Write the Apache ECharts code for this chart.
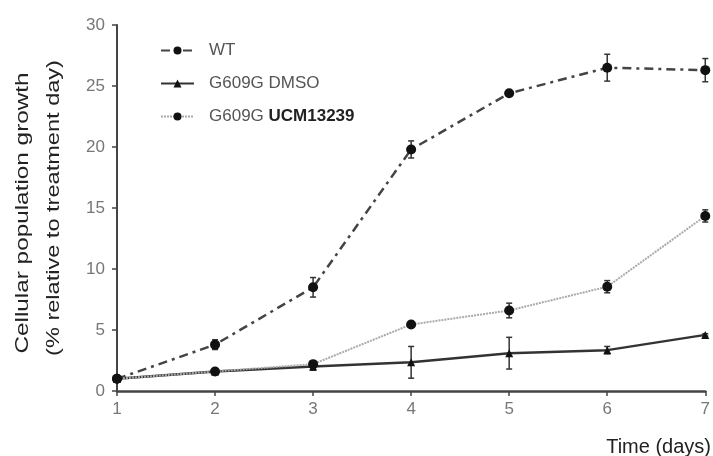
<!DOCTYPE html>
<html>
<head>
<meta charset="utf-8">
<script src="https://cdn.jsdelivr.net/npm/echarts@6/dist/echarts.min.js"></script>
<style>
	html, body { margin: 0; padding: 0; background: #fff; }
	#chart { width: 713px; height: 456px; }
</style>
</head>
<body>
<div id="chart"></div>
<script>
	// 数据
	var days = [1, 2, 3, 4, 5, 6, 7];
	var seriesNames = ['WT', 'G609G DMSO', 'G609G UCM13239'];
	var wt = [1.0, 3.8, 8.5, 19.8, 24.4, 26.5, 26.3];
	var wtErr = [0, 0.4, 0.8, 0.7, 0.2, 1.1, 0.95];
	var dmso = [1.0, 1.6, 2.0, 2.35, 3.1, 3.35, 4.6];
	var dmsoErr = [0, 0.1, 0.3, 1.3, 1.3, 0.3, 0.1];
	var ucm = [1.0, 1.6, 2.2, 5.45, 6.6, 8.55, 14.35];
	var ucmErr = [0, 0.1, 0.2, 0.1, 0.6, 0.5, 0.5];
	var yTicks = [0, 5, 10, 15, 20, 25, 30];
	var yTitle = ['Cellular population growth', '(% relative to treatment day)'];
	var xTitle = 'Time (days)';

	var font = 'Liberation Sans, Arial, sans-serif';

	function pairs(vals) {
		return days.map(function (d, i) { return [d, vals[i]]; });
	}
	function errPairs(vals, errs) {
		return days.map(function (d, i) { return [d, vals[i] - errs[i], vals[i] + errs[i]]; });
	}

	// 误差线
	function errorBar(name, vals, errs) {
		return {
			type: 'custom',
			name: name + ' err',
			silent: true,
			z: 3,
			data: errPairs(vals, errs),
			renderItem: function (params, api) {
				var lo = api.coord([api.value(0), api.value(1)]);
				var hi = api.coord([api.value(0), api.value(2)]);
				var w = 3;
				var st = { stroke: '#333', lineWidth: 1.5 };
				return {
					type: 'group',
					children: [
						{ type: 'line', shape: { x1: lo[0], y1: lo[1], x2: hi[0], y2: hi[1] }, style: st },
						{ type: 'line', shape: { x1: lo[0] - w, y1: lo[1], x2: lo[0] + w, y2: lo[1] }, style: st },
						{ type: 'line', shape: { x1: hi[0] - w, y1: hi[1], x2: hi[0] + w, y2: hi[1] }, style: st }
					]
				};
			}
		};
	}

	var myChart = echarts.init(document.getElementById('chart'));
	myChart.setOption({
		animation: false,
		textStyle: { fontFamily: font },
		grid: { left: 117, right: 6, top: 25, bottom: 65 },
		legend: {
			orient: 'vertical',
			left: 155,
			top: 37,
			itemWidth: 33,
			itemHeight: 10,
			itemGap: 16,
			data: seriesNames,
			formatter: function (name) {
				return name === 'G609G UCM13239' ? 'G609G {b|UCM13239}' : name;
			},
			textStyle: {
				color: '#555',
				fontSize: 17,
				padding: [0, 0, 0, 10],
				rich: { b: { fontWeight: 'bold', color: '#222', fontSize: 17 } }
			}
		},
		xAxis: {
			type: 'value',
			min: 1,
			max: 7,
			interval: 1,
			splitLine: { show: false },
			axisLine: { lineStyle: { color: '#444', width: 2.5 } },
			axisTick: { inside: false, length: 5, lineStyle: { color: '#444', width: 1.5 } },
			axisLabel: { color: '#777', fontSize: 17, margin: 10 }
		},
		yAxis: {
			type: 'value',
			min: yTicks[0],
			max: yTicks[yTicks.length - 1],
			interval: 5,
			splitLine: { show: false },
			axisLine: { show: true, lineStyle: { color: '#444', width: 2 } },
			axisTick: { show: true, length: 5, lineStyle: { color: '#444', width: 1.5 } },
			axisLabel: { color: '#777', fontSize: 17, margin: 12 }
		},
		graphic: [
			{
				type: 'text',
				x: 23,
				y: 213,
				rotation: Math.PI / 2,
				scaleX: 1.28,
				style: { text: yTitle[0], fill: '#222', fontSize: 19, fontFamily: font, align: 'center', verticalAlign: 'middle' }
			},
			{
				type: 'text',
				x: 54,
				y: 208,
				rotation: Math.PI / 2,
				scaleX: 1.24,
				style: { text: yTitle[1], fill: '#222', fontSize: 19, fontFamily: font, align: 'center', verticalAlign: 'middle' }
			},
			{
				type: 'text',
				right: 2,
				top: 437,
				style: { text: xTitle, fill: '#222', fontSize: 20, fontFamily: font }
			}
		],
		series: [
			{
				name: seriesNames[0],
				type: 'line',
				data: pairs(wt),
				symbol: 'circle',
				symbolSize: 10,
				z: 4,
				itemStyle: { color: '#111' },
				lineStyle: { color: '#444', width: 2.5, type: [9, 5, 3, 5] }
			},
			{
				name: seriesNames[1],
				type: 'line',
				data: pairs(dmso),
				symbol: 'triangle',
				symbolSize: 8,
				z: 4,
				itemStyle: { color: '#111' },
				lineStyle: { color: '#333', width: 2.5 }
			},
			{
				name: seriesNames[2],
				type: 'line',
				data: pairs(ucm),
				symbol: 'circle',
				symbolSize: 10,
				z: 4,
				itemStyle: { color: '#111' },
				lineStyle: { color: '#aaa', width: 2, type: [2, 1] }
			},
			errorBar(seriesNames[0], wt, wtErr),
			errorBar(seriesNames[1], dmso, dmsoErr),
			errorBar(seriesNames[2], ucm, ucmErr)
		]
	});
</script>
</body>
</html>
